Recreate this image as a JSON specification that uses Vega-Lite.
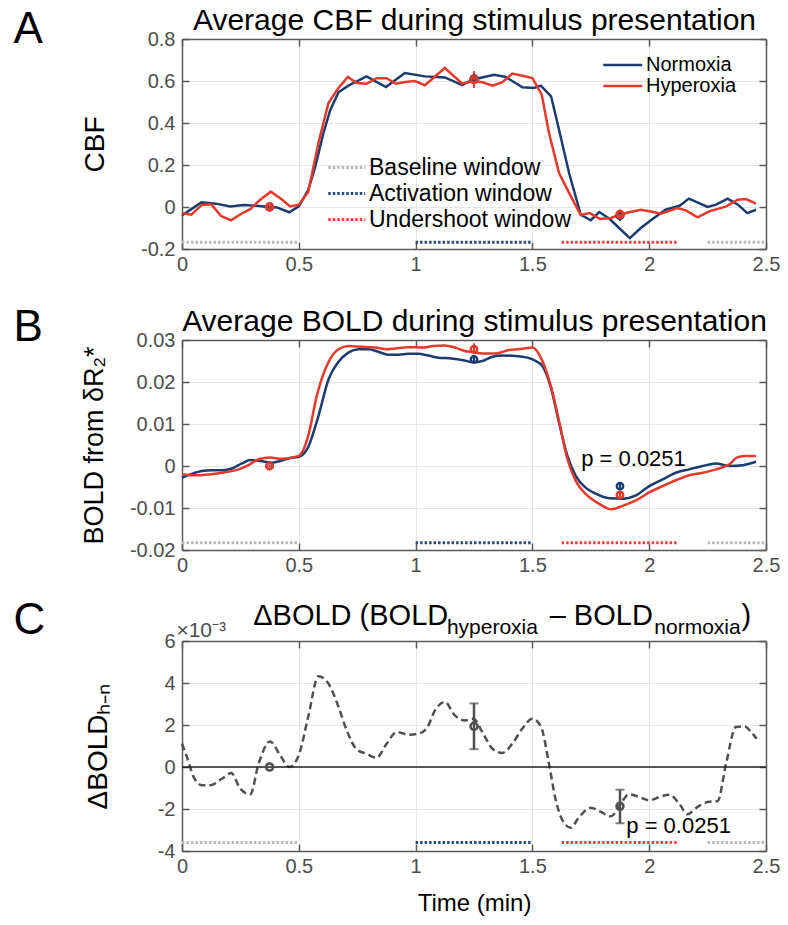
{
"$schema":"https://vega.github.io/schema/vega-lite/v6.json",
"autosize":{"type":"pad"},
"padding":{"left":13,"top":5,"right":5,"bottom":5},
"background":"white",
"config":{"font":"Liberation Sans","view":{"stroke":null},
 "axis":{"labelFont":"Liberation Sans","labelFontSize":20,"labelColor":"#4d4d4d","domainColor":"#5a5a5a","domainWidth":1.5,"tickColor":"#5a5a5a","tickWidth":1.5,"tickSize":-7,"gridColor":"#e6e6e6","gridWidth":1,"titleFont":"Liberation Sans","titleFontWeight":"normal","titleColor":"#000","labelFlush":false,"labelOverlap":false},
 "legend":{"labelFont":"Liberation Sans","labelLimit":400}},
"datasets":{
"cbf":[
{"cond":"Normoxia","t":0,"v":-0.04},{"cond":"Normoxia","t":0.083,"v":0.022},{"cond":"Normoxia","t":0.145,"v":0.016},{"cond":"Normoxia","t":0.207,"v":0.003},{"cond":"Normoxia","t":0.264,"v":0.01},{"cond":"Normoxia","t":0.32,"v":0.006},{"cond":"Normoxia","t":0.37,"v":0.0},{"cond":"Normoxia","t":0.406,"v":-0.002},{"cond":"Normoxia","t":0.459,"v":-0.025},{"cond":"Normoxia","t":0.5,"v":0.003},{"cond":"Normoxia","t":0.54,"v":0.08},{"cond":"Normoxia","t":0.57,"v":0.19},{"cond":"Normoxia","t":0.605,"v":0.35},{"cond":"Normoxia","t":0.634,"v":0.46},{"cond":"Normoxia","t":0.67,"v":0.546},{"cond":"Normoxia","t":0.712,"v":0.578},{"cond":"Normoxia","t":0.79,"v":0.622},{"cond":"Normoxia","t":0.873,"v":0.571},{"cond":"Normoxia","t":0.954,"v":0.638},{"cond":"Normoxia","t":1.04,"v":0.622},{"cond":"Normoxia","t":1.125,"v":0.617},{"cond":"Normoxia","t":1.2,"v":0.58},{"cond":"Normoxia","t":1.243,"v":0.606},{"cond":"Normoxia","t":1.336,"v":0.63},{"cond":"Normoxia","t":1.386,"v":0.619},{"cond":"Normoxia","t":1.457,"v":0.57},{"cond":"Normoxia","t":1.507,"v":0.567},{"cond":"Normoxia","t":1.536,"v":0.578},{"cond":"Normoxia","t":1.58,"v":0.527},{"cond":"Normoxia","t":1.614,"v":0.368},{"cond":"Normoxia","t":1.657,"v":0.162},{"cond":"Normoxia","t":1.707,"v":-0.037},{"cond":"Normoxia","t":1.75,"v":-0.063},{"cond":"Normoxia","t":1.786,"v":-0.024},{"cond":"Normoxia","t":1.83,"v":-0.056},{"cond":"Normoxia","t":1.871,"v":-0.1},{"cond":"Normoxia","t":1.917,"v":-0.148},{"cond":"Normoxia","t":1.964,"v":-0.1},{"cond":"Normoxia","t":2.007,"v":-0.063},{"cond":"Normoxia","t":2.07,"v":-0.013},{"cond":"Normoxia","t":2.13,"v":0.006},{"cond":"Normoxia","t":2.17,"v":0.04},{"cond":"Normoxia","t":2.25,"v":0.0},{"cond":"Normoxia","t":2.286,"v":0.011},{"cond":"Normoxia","t":2.336,"v":0.04},{"cond":"Normoxia","t":2.38,"v":0.011},{"cond":"Normoxia","t":2.42,"v":-0.029},{"cond":"Normoxia","t":2.457,"v":-0.013},
{"cond":"Hyperoxia","t":0,"v":-0.03},{"cond":"Hyperoxia","t":0.04,"v":-0.037},{"cond":"Hyperoxia","t":0.085,"v":0.01},{"cond":"Hyperoxia","t":0.125,"v":0.013},{"cond":"Hyperoxia","t":0.168,"v":-0.044},{"cond":"Hyperoxia","t":0.21,"v":-0.063},{"cond":"Hyperoxia","t":0.254,"v":-0.032},{"cond":"Hyperoxia","t":0.292,"v":-0.01},{"cond":"Hyperoxia","t":0.335,"v":0.035},{"cond":"Hyperoxia","t":0.38,"v":0.073},{"cond":"Hyperoxia","t":0.425,"v":0.038},{"cond":"Hyperoxia","t":0.463,"v":0.003},{"cond":"Hyperoxia","t":0.5,"v":0.011},{"cond":"Hyperoxia","t":0.54,"v":0.07},{"cond":"Hyperoxia","t":0.584,"v":0.305},{"cond":"Hyperoxia","t":0.627,"v":0.495},{"cond":"Hyperoxia","t":0.67,"v":0.567},{"cond":"Hyperoxia","t":0.71,"v":0.619},{"cond":"Hyperoxia","t":0.748,"v":0.59},{"cond":"Hyperoxia","t":0.79,"v":0.587},{"cond":"Hyperoxia","t":0.833,"v":0.613},{"cond":"Hyperoxia","t":0.876,"v":0.613},{"cond":"Hyperoxia","t":0.915,"v":0.587},{"cond":"Hyperoxia","t":0.955,"v":0.595},{"cond":"Hyperoxia","t":0.997,"v":0.6},{"cond":"Hyperoxia","t":1.04,"v":0.58},{"cond":"Hyperoxia","t":1.125,"v":0.662},{"cond":"Hyperoxia","t":1.2,"v":0.587},{"cond":"Hyperoxia","t":1.25,"v":0.6},{"cond":"Hyperoxia","t":1.286,"v":0.594},{"cond":"Hyperoxia","t":1.33,"v":0.578},{"cond":"Hyperoxia","t":1.371,"v":0.594},{"cond":"Hyperoxia","t":1.414,"v":0.635},{"cond":"Hyperoxia","t":1.457,"v":0.625},{"cond":"Hyperoxia","t":1.5,"v":0.614},{"cond":"Hyperoxia","t":1.54,"v":0.535},{"cond":"Hyperoxia","t":1.571,"v":0.352},{"cond":"Hyperoxia","t":1.614,"v":0.162},{"cond":"Hyperoxia","t":1.657,"v":0.067},{"cond":"Hyperoxia","t":1.707,"v":-0.038},{"cond":"Hyperoxia","t":1.746,"v":-0.029},{"cond":"Hyperoxia","t":1.789,"v":-0.057},{"cond":"Hyperoxia","t":1.836,"v":-0.052},{"cond":"Hyperoxia","t":1.874,"v":-0.037},{"cond":"Hyperoxia","t":1.914,"v":-0.025},{"cond":"Hyperoxia","t":1.964,"v":-0.013},{"cond":"Hyperoxia","t":2.007,"v":-0.021},{"cond":"Hyperoxia","t":2.05,"v":-0.032},{"cond":"Hyperoxia","t":2.12,"v":-0.005},{"cond":"Hyperoxia","t":2.157,"v":-0.016},{"cond":"Hyperoxia","t":2.207,"v":-0.049},{"cond":"Hyperoxia","t":2.257,"v":-0.021},{"cond":"Hyperoxia","t":2.33,"v":0.003},{"cond":"Hyperoxia","t":2.379,"v":0.035},{"cond":"Hyperoxia","t":2.414,"v":0.038},{"cond":"Hyperoxia","t":2.457,"v":0.016}
],
"bold":[
{"cond":"Normoxia","t":0,"v":-0.0028},{"cond":"Normoxia","t":0.036,"v":-0.002},{"cond":"Normoxia","t":0.085,"v":-0.0012},{"cond":"Normoxia","t":0.128,"v":-0.001},{"cond":"Normoxia","t":0.171,"v":-0.001},{"cond":"Normoxia","t":0.214,"v":-0.0006},{"cond":"Normoxia","t":0.256,"v":0.0006},{"cond":"Normoxia","t":0.292,"v":0.0014},{"cond":"Normoxia","t":0.335,"v":0.0012},{"cond":"Normoxia","t":0.385,"v":0.0008},{"cond":"Normoxia","t":0.427,"v":0.0013},{"cond":"Normoxia","t":0.463,"v":0.0019},{"cond":"Normoxia","t":0.5,"v":0.0022},{"cond":"Normoxia","t":0.54,"v":0.0045},{"cond":"Normoxia","t":0.584,"v":0.0119},{"cond":"Normoxia","t":0.627,"v":0.0206},{"cond":"Normoxia","t":0.67,"v":0.0248},{"cond":"Normoxia","t":0.712,"v":0.027},{"cond":"Normoxia","t":0.755,"v":0.0278},{"cond":"Normoxia","t":0.798,"v":0.0278},{"cond":"Normoxia","t":0.84,"v":0.0272},{"cond":"Normoxia","t":0.883,"v":0.0265},{"cond":"Normoxia","t":0.926,"v":0.0265},{"cond":"Normoxia","t":0.969,"v":0.0267},{"cond":"Normoxia","t":1.011,"v":0.0267},{"cond":"Normoxia","t":1.054,"v":0.0263},{"cond":"Normoxia","t":1.097,"v":0.0258},{"cond":"Normoxia","t":1.154,"v":0.0256},{"cond":"Normoxia","t":1.204,"v":0.0252},{"cond":"Normoxia","t":1.246,"v":0.0247},{"cond":"Normoxia","t":1.286,"v":0.025},{"cond":"Normoxia","t":1.329,"v":0.026},{"cond":"Normoxia","t":1.371,"v":0.0263},{"cond":"Normoxia","t":1.429,"v":0.0262},{"cond":"Normoxia","t":1.479,"v":0.0258},{"cond":"Normoxia","t":1.514,"v":0.025},{"cond":"Normoxia","t":1.543,"v":0.0238},{"cond":"Normoxia","t":1.579,"v":0.0187},{"cond":"Normoxia","t":1.614,"v":0.0103},{"cond":"Normoxia","t":1.65,"v":0.0024},{"cond":"Normoxia","t":1.686,"v":-0.0024},{"cond":"Normoxia","t":1.729,"v":-0.0052},{"cond":"Normoxia","t":1.771,"v":-0.0066},{"cond":"Normoxia","t":1.829,"v":-0.0077},{"cond":"Normoxia","t":1.886,"v":-0.0078},{"cond":"Normoxia","t":1.943,"v":-0.007},{"cond":"Normoxia","t":2.0,"v":-0.0048},{"cond":"Normoxia","t":2.057,"v":-0.0032},{"cond":"Normoxia","t":2.114,"v":-0.0016},{"cond":"Normoxia","t":2.171,"v":-0.0008},{"cond":"Normoxia","t":2.229,"v":0.0},{"cond":"Normoxia","t":2.286,"v":0.0006},{"cond":"Normoxia","t":2.343,"v":0.0},{"cond":"Normoxia","t":2.4,"v":0.0002},{"cond":"Normoxia","t":2.457,"v":0.001},
{"cond":"Hyperoxia","t":0,"v":-0.002},{"cond":"Hyperoxia","t":0.057,"v":-0.0022},{"cond":"Hyperoxia","t":0.114,"v":-0.002},{"cond":"Hyperoxia","t":0.171,"v":-0.0016},{"cond":"Hyperoxia","t":0.242,"v":-0.0008},{"cond":"Hyperoxia","t":0.285,"v":0.0002},{"cond":"Hyperoxia","t":0.328,"v":0.0016},{"cond":"Hyperoxia","t":0.377,"v":0.002},{"cond":"Hyperoxia","t":0.427,"v":0.0017},{"cond":"Hyperoxia","t":0.5,"v":0.0024},{"cond":"Hyperoxia","t":0.54,"v":0.0071},{"cond":"Hyperoxia","t":0.577,"v":0.0167},{"cond":"Hyperoxia","t":0.624,"v":0.0244},{"cond":"Hyperoxia","t":0.67,"v":0.0278},{"cond":"Hyperoxia","t":0.712,"v":0.0286},{"cond":"Hyperoxia","t":0.77,"v":0.0284},{"cond":"Hyperoxia","t":0.826,"v":0.0282},{"cond":"Hyperoxia","t":0.876,"v":0.0278},{"cond":"Hyperoxia","t":0.912,"v":0.028},{"cond":"Hyperoxia","t":0.969,"v":0.0283},{"cond":"Hyperoxia","t":1.033,"v":0.0282},{"cond":"Hyperoxia","t":1.075,"v":0.0286},{"cond":"Hyperoxia","t":1.125,"v":0.0287},{"cond":"Hyperoxia","t":1.168,"v":0.0282},{"cond":"Hyperoxia","t":1.21,"v":0.0274},{"cond":"Hyperoxia","t":1.246,"v":0.0271},{"cond":"Hyperoxia","t":1.286,"v":0.0268},{"cond":"Hyperoxia","t":1.343,"v":0.0268},{"cond":"Hyperoxia","t":1.4,"v":0.0276},{"cond":"Hyperoxia","t":1.457,"v":0.0279},{"cond":"Hyperoxia","t":1.5,"v":0.0282},{"cond":"Hyperoxia","t":1.536,"v":0.0258},{"cond":"Hyperoxia","t":1.579,"v":0.019},{"cond":"Hyperoxia","t":1.614,"v":0.0107},{"cond":"Hyperoxia","t":1.65,"v":0.0016},{"cond":"Hyperoxia","t":1.686,"v":-0.0036},{"cond":"Hyperoxia","t":1.729,"v":-0.0067},{"cond":"Hyperoxia","t":1.786,"v":-0.009},{"cond":"Hyperoxia","t":1.836,"v":-0.0103},{"cond":"Hyperoxia","t":1.886,"v":-0.0095},{"cond":"Hyperoxia","t":1.943,"v":-0.0082},{"cond":"Hyperoxia","t":2.0,"v":-0.0063},{"cond":"Hyperoxia","t":2.057,"v":-0.0048},{"cond":"Hyperoxia","t":2.114,"v":-0.0034},{"cond":"Hyperoxia","t":2.171,"v":-0.0022},{"cond":"Hyperoxia","t":2.229,"v":-0.0016},{"cond":"Hyperoxia","t":2.286,"v":-0.0008},{"cond":"Hyperoxia","t":2.343,"v":0.0004},{"cond":"Hyperoxia","t":2.379,"v":0.0021},{"cond":"Hyperoxia","t":2.414,"v":0.0024},{"cond":"Hyperoxia","t":2.457,"v":0.0024}
],
"dbold":[
{"t":0,"v":1.11},{"t":0.021,"v":0.48},{"t":0.05,"v":-0.48},{"t":0.085,"v":-0.87},{"t":0.121,"v":-0.87},{"t":0.171,"v":-0.56},{"t":0.211,"v":-0.29},{"t":0.249,"v":-1.03},{"t":0.292,"v":-1.3},{"t":0.328,"v":0.16},{"t":0.377,"v":1.22},{"t":0.42,"v":0.56},{"t":0.46,"v":0.0},{"t":0.5,"v":0.56},{"t":0.54,"v":2.38},{"t":0.584,"v":4.32},{"t":0.627,"v":3.97},{"t":0.67,"v":2.86},{"t":0.705,"v":1.75},{"t":0.748,"v":0.84},{"t":0.79,"v":0.63},{"t":0.833,"v":0.44},{"t":0.876,"v":1.11},{"t":0.919,"v":1.67},{"t":0.969,"v":1.54},{"t":1.011,"v":1.59},{"t":1.047,"v":1.83},{"t":1.083,"v":2.7},{"t":1.125,"v":3.1},{"t":1.168,"v":2.46},{"t":1.211,"v":2.22},{"t":1.246,"v":2.3},{"t":1.293,"v":1.51},{"t":1.329,"v":0.87},{"t":1.371,"v":0.67},{"t":1.414,"v":1.11},{"t":1.457,"v":1.83},{"t":1.5,"v":2.3},{"t":1.536,"v":1.94},{"t":1.571,"v":0.16},{"t":1.597,"v":-1.43},{"t":1.629,"v":-2.54},{"t":1.664,"v":-2.89},{"t":1.7,"v":-2.38},{"t":1.75,"v":-1.94},{"t":1.793,"v":-2.14},{"t":1.836,"v":-2.35},{"t":1.871,"v":-1.87},{"t":1.914,"v":-1.3},{"t":1.957,"v":-1.43},{"t":2.0,"v":-1.59},{"t":2.043,"v":-1.43},{"t":2.086,"v":-1.32},{"t":2.129,"v":-1.75},{"t":2.164,"v":-2.25},{"t":2.207,"v":-1.9},{"t":2.25,"v":-1.67},{"t":2.293,"v":-1.62},{"t":2.329,"v":0.16},{"t":2.371,"v":1.9},{"t":2.407,"v":1.94},{"t":2.436,"v":1.67},{"t":2.46,"v":1.35}
],
"win":[
{"win":"Baseline window","t0":0,"t1":0.5},{"win":"Baseline window","t0":2.25,"t1":2.5},{"win":"Activation window","t0":1.0,"t1":1.5},{"win":"Undershoot window","t0":1.625,"t1":2.125}
],
"mk":[
{"panel":"A","cond":"Normoxia","t":0.375,"v":0.0,"lo":-0.005,"hi":0.005},{"panel":"A","cond":"Normoxia","t":1.25,"v":0.61,"lo":0.575,"hi":0.645},{"panel":"A","cond":"Normoxia","t":1.875,"v":-0.04,"lo":-0.065,"hi":-0.015},
{"panel":"A","cond":"Hyperoxia","t":0.375,"v":0.0,"lo":-0.005,"hi":0.005},{"panel":"A","cond":"Hyperoxia","t":1.25,"v":0.606,"lo":0.567,"hi":0.646},{"panel":"A","cond":"Hyperoxia","t":1.875,"v":-0.035,"lo":-0.06,"hi":-0.012},
{"panel":"B","cond":"Normoxia","t":0.375,"v":0.0,"lo":-0.0003,"hi":0.0003},{"panel":"B","cond":"Normoxia","t":1.25,"v":0.0254,"lo":0.0247,"hi":0.0261},{"panel":"B","cond":"Normoxia","t":1.875,"v":-0.0048,"lo":-0.0055,"hi":-0.0041},
{"panel":"B","cond":"Hyperoxia","t":0.375,"v":0.0,"lo":-0.0003,"hi":0.0003},{"panel":"B","cond":"Hyperoxia","t":1.25,"v":0.0278,"lo":0.0266,"hi":0.0292},{"panel":"B","cond":"Hyperoxia","t":1.875,"v":-0.0069,"lo":-0.0076,"hi":-0.0062},
{"panel":"C","cond":"Difference","t":0.375,"v":0.0,"lo":0.0,"hi":0.0},{"panel":"C","cond":"Difference","t":1.25,"v":1.94,"lo":0.85,"hi":3.03},{"panel":"C","cond":"Difference","t":1.875,"v":-1.87,"lo":-2.68,"hi":-1.08}
]
},
"resolve":{"scale":{"color":"independent","stroke":"independent"},"legend":{"color":"independent","stroke":"independent"}},
"bounds":"flush",
"spacing":91,
"vconcat":[
{
"width":584,"height":210,
"resolve":{"axis":{"x":"independent","y":"independent"}},
"layer":[
 {"data":{"name":"cbf"},"mark":{"type":"line","strokeWidth":2.5},
  "encoding":{
   "x":{"field":"t","type":"quantitative","scale":{"domain":[0,2.5],"nice":false,"zero":false},"axis":{"orient":"bottom","values":[0,0.5,1,1.5,2,2.5],"format":".1~f","title":null,"grid":true,"labelPadding":12}},
   "y":{"field":"v","type":"quantitative","scale":{"domain":[-0.2,0.8],"nice":false,"zero":false},"axis":{"orient":"left","values":[-0.2,0,0.2,0.4,0.6,0.8],"labelExpr":"replace(format(datum.value,'.1~f'),'−','-')","title":"CBF","titleFontSize":28,"titleX":-79,"titleBaseline":"alphabetic","grid":true,"labelPadding":14}},
   "color":{"field":"cond","type":"nominal","scale":{"domain":["Normoxia","Hyperoxia"],"range":["#1b3c6e","#e5392b"]},"legend":{"title":null,"orient":"none","legendX":420,"legendY":15,"symbolType":"M-1,0H3","symbolSize":380,"symbolStrokeWidth":2.5,"labelFontSize":20,"labelColor":"#000","labelOffset":22,"rowPadding":0,"padding":0}}
  }},
 {"data":{"name":"win"},"mark":{"type":"rule","strokeWidth":3,"strokeDash":[2.5,2]},
  "encoding":{
   "x":{"field":"t0","type":"quantitative","axis":null},"x2":{"field":"t1"},
   "y":{"datum":-0.168,"type":"quantitative","axis":null},
   "stroke":{"field":"win","type":"nominal","scale":{"domain":["Baseline window","Activation window","Undershoot window"],"range":["#b8b8b8","#2d4a7f","#ff3d3d"]},"legend":{"title":null,"orient":"none","legendX":144,"legendY":117,"symbolType":"M-1,0H3","symbolSize":342,"symbolStrokeWidth":3,"symbolDash":[2.5,2],"labelFontSize":23,"labelColor":"#000","labelOffset":20,"rowPadding":2,"padding":0}}
  }},
 {"data":{"name":"mk"},"transform":[{"filter":"datum.panel==='A'"}],"mark":{"type":"rule","strokeWidth":2},
  "encoding":{"x":{"field":"t","type":"quantitative","axis":null},"y":{"field":"lo","type":"quantitative","axis":null},"y2":{"field":"hi"},"color":{"field":"cond","type":"nominal"}}},
 {"data":{"name":"mk"},"transform":[{"filter":"datum.panel==='A'"}],"mark":{"type":"point","shape":"circle","filled":false,"size":40,"strokeWidth":3,"opacity":1},
  "encoding":{
   "x":{"field":"t","type":"quantitative","axis":{"orient":"top","labels":false,"grid":false,"title":"Average CBF during stimulus presentation","titleFontSize":30,"titleY":-10,"titleBaseline":"alphabetic","values":[0,0.5,1,1.5,2,2.5]}},
   "y":{"field":"v","type":"quantitative","axis":{"orient":"right","labels":false,"grid":false,"title":null,"values":[-0.2,0,0.2,0.4,0.6,0.8]}},
   "color":{"field":"cond","type":"nominal"}}},
 {"data":{"values":[{}]},"mark":{"type":"text","fontSize":44,"align":"left","baseline":"alphabetic"},
  "encoding":{"x":{"datum":-0.721,"type":"quantitative","axis":null},"y":{"datum":0.781,"type":"quantitative","axis":null},"text":{"value":"A"}}}
]
},
{
"width":584,"height":210,
"resolve":{"axis":{"x":"independent","y":"independent"}},
"layer":[
 {"data":{"name":"bold"},"mark":{"type":"line","strokeWidth":2.5,"interpolate":"monotone"},
  "encoding":{
   "x":{"field":"t","type":"quantitative","scale":{"domain":[0,2.5],"nice":false,"zero":false},"axis":{"orient":"bottom","values":[0,0.5,1,1.5,2,2.5],"format":".1~f","title":null,"grid":true,"labelPadding":12}},
   "y":{"field":"v","type":"quantitative","scale":{"domain":[-0.02,0.03],"nice":false,"zero":false},"axis":{"orient":"left","values":[-0.02,-0.01,0,0.01,0.02,0.03],"labelExpr":"replace(format(datum.value,'.2~f'),'−','-')","title":"BOLD from δR₂*","titleFontSize":27,"titleX":-80,"titleBaseline":"alphabetic","grid":true,"labelPadding":14}},
   "color":{"field":"cond","type":"nominal","scale":{"domain":["Normoxia","Hyperoxia"],"range":["#1b3c6e","#e5392b"]},"legend":null}
  }},
 {"data":{"name":"win"},"mark":{"type":"rule","strokeWidth":3,"strokeDash":[2.5,2]},
  "encoding":{
   "x":{"field":"t0","type":"quantitative","axis":null},"x2":{"field":"t1"},
   "y":{"datum":-0.01825,"type":"quantitative","axis":null},
   "stroke":{"field":"win","type":"nominal","scale":{"domain":["Baseline window","Activation window","Undershoot window"],"range":["#b8b8b8","#2d4a7f","#ff3d3d"]},"legend":null}
  }},
 {"data":{"name":"mk"},"transform":[{"filter":"datum.panel==='B'"}],"mark":{"type":"rule","strokeWidth":2},
  "encoding":{"x":{"field":"t","type":"quantitative","axis":null},"y":{"field":"lo","type":"quantitative","axis":null},"y2":{"field":"hi"},"color":{"field":"cond","type":"nominal"}}},
 {"data":{"name":"mk"},"transform":[{"filter":"datum.panel==='B'"}],"mark":{"type":"point","shape":"circle","filled":false,"size":40,"strokeWidth":2.5,"opacity":1},
  "encoding":{
   "x":{"field":"t","type":"quantitative","axis":{"orient":"top","labels":false,"grid":false,"title":"Average BOLD during stimulus presentation","titleFontSize":30,"titleY":-10,"titleBaseline":"alphabetic","values":[0,0.5,1,1.5,2,2.5]}},
   "y":{"field":"v","type":"quantitative","axis":{"orient":"right","labels":false,"grid":false,"title":null,"values":[-0.02,-0.01,0,0.01,0.02,0.03]}},
   "color":{"field":"cond","type":"nominal"}}},
 {"data":{"values":[{}]},"mark":{"type":"text","fontSize":22,"align":"left","baseline":"middle"},
  "encoding":{"x":{"datum":1.709,"type":"quantitative","axis":null},"y":{"datum":0.00175,"type":"quantitative","axis":null},"text":{"value":"p = 0.0251"}}},
 {"data":{"values":[{}]},"mark":{"type":"text","fontSize":44,"align":"left","baseline":"alphabetic"},
  "encoding":{"x":{"datum":-0.721,"type":"quantitative","axis":null},"y":{"datum":0.02976,"type":"quantitative","axis":null},"text":{"value":"B"}}}
]
},
{
"width":584,"height":210,
"resolve":{"axis":{"x":"independent","y":"independent"}},
"layer":[
 {"data":{"name":"dbold"},"mark":{"type":"line","strokeWidth":2.5,"interpolate":"monotone","strokeDash":[7,4],"color":"#505050"},
  "encoding":{
   "x":{"field":"t","type":"quantitative","scale":{"domain":[0,2.5],"nice":false,"zero":false},"axis":{"orient":"bottom","values":[0,0.5,1,1.5,2,2.5],"format":".1~f","title":"Time (min)","titleFontSize":24,"titleY":59,"titleBaseline":"alphabetic","grid":true,"labelPadding":12}},
   "y":{"field":"v","type":"quantitative","scale":{"domain":[-4,6],"nice":false,"zero":false},"axis":{"orient":"left","values":[-4,-2,0,2,4,6],"labelExpr":"replace(format(datum.value,'d'),'−','-')","title":"ΔBOLDₕ₋ₙ","titleFontSize":28,"titleX":-76,"titleBaseline":"alphabetic","grid":true,"labelPadding":14}}
  }},
 {"data":{"name":"win"},"mark":{"type":"rule","strokeWidth":3,"strokeDash":[2.5,2]},
  "encoding":{
   "x":{"field":"t0","type":"quantitative","axis":null},"x2":{"field":"t1"},
   "y":{"datum":-3.6,"type":"quantitative","axis":null},
   "stroke":{"field":"win","type":"nominal","scale":{"domain":["Baseline window","Activation window","Undershoot window"],"range":["#b8b8b8","#2d4a7f","#ff3d3d"]},"legend":null}
  }},
 {"data":{"values":[{}]},"mark":{"type":"rule","strokeWidth":1.5,"color":"#222222"},
  "encoding":{"y":{"datum":0,"type":"quantitative","axis":null}}},
 {"data":{"name":"mk"},"transform":[{"filter":"datum.panel==='C'"}],"mark":{"type":"rule","strokeWidth":2.5,"color":"#505050"},
  "encoding":{"x":{"field":"t","type":"quantitative","axis":null},"y":{"field":"lo","type":"quantitative","axis":null},"y2":{"field":"hi"}}},
 {"data":{"name":"mk"},"transform":[{"filter":"datum.panel==='C' && datum.hi > datum.lo"}],"mark":{"type":"tick","orient":"horizontal","size":9,"thickness":2,"color":"#505050"},
  "encoding":{"x":{"field":"t","type":"quantitative","axis":null},"y":{"field":"lo","type":"quantitative","axis":null}}},
 {"data":{"name":"mk"},"transform":[{"filter":"datum.panel==='C' && datum.hi > datum.lo"}],"mark":{"type":"tick","orient":"horizontal","size":9,"thickness":2,"color":"#505050"},
  "encoding":{"x":{"field":"t","type":"quantitative","axis":null},"y":{"field":"hi","type":"quantitative","axis":null}}},
 {"data":{"name":"mk"},"transform":[{"filter":"datum.panel==='C'"}],"mark":{"type":"point","shape":"circle","filled":false,"size":50,"strokeWidth":2.5,"opacity":1,"color":"#505050"},
  "encoding":{
   "x":{"field":"t","type":"quantitative","axis":{"orient":"top","labels":false,"grid":false,"title":null,"values":[0,0.5,1,1.5,2,2.5]}},
   "y":{"field":"v","type":"quantitative","axis":{"orient":"right","labels":false,"grid":false,"title":null,"values":[-4,-2,0,2,4,6]}}}},
 {"data":{"values":[{}]},"mark":{"type":"text","fontSize":22,"align":"left","baseline":"middle"},
  "encoding":{"x":{"datum":1.902,"type":"quantitative","axis":null},"y":{"datum":-2.81,"type":"quantitative","axis":null},"text":{"value":"p = 0.0251"}}},
 {"data":{"values":[{}]},"mark":{"type":"text","fontSize":44,"align":"left","baseline":"alphabetic"},
  "encoding":{"x":{"datum":-0.721,"type":"quantitative","axis":null},"y":{"datum":6.33,"type":"quantitative","axis":null},"text":{"value":"C"}}},
 {"data":{"values":[{}]},"mark":{"type":"text","fontSize":21,"align":"left","baseline":"alphabetic","color":"#4d4d4d"},
  "encoding":{"x":{"datum":-0.024,"type":"quantitative","axis":null},"y":{"datum":6.2,"type":"quantitative","axis":null},"text":{"value":"×10⁻³"}}},
 {"data":{"values":[{}]},"mark":{"type":"text","fontSize":29,"align":"left","baseline":"alphabetic"},
  "encoding":{"x":{"datum":0.3047,"type":"quantitative","axis":null},"y":{"datum":6.762,"type":"quantitative","axis":null},"text":{"value":"ΔBOLD (BOLD"}}},
 {"data":{"values":[{}]},"mark":{"type":"text","fontSize":21,"align":"left","baseline":"alphabetic"},
  "encoding":{"x":{"datum":1.134,"type":"quantitative","axis":null},"y":{"datum":6.333,"type":"quantitative","axis":null},"text":{"value":"hyperoxia"}}},
 {"data":{"values":[{}]},"mark":{"type":"text","fontSize":29,"align":"left","baseline":"alphabetic"},
  "encoding":{"x":{"datum":1.574,"type":"quantitative","axis":null},"y":{"datum":6.762,"type":"quantitative","axis":null},"text":{"value":"– BOLD"}}},
 {"data":{"values":[{}]},"mark":{"type":"text","fontSize":21,"align":"left","baseline":"alphabetic"},
  "encoding":{"x":{"datum":2.022,"type":"quantitative","axis":null},"y":{"datum":6.333,"type":"quantitative","axis":null},"text":{"value":"normoxia"}}},
 {"data":{"values":[{}]},"mark":{"type":"text","fontSize":29,"align":"left","baseline":"alphabetic"},
  "encoding":{"x":{"datum":2.395,"type":"quantitative","axis":null},"y":{"datum":6.762,"type":"quantitative","axis":null},"text":{"value":")"}}}
]
}
]
}
